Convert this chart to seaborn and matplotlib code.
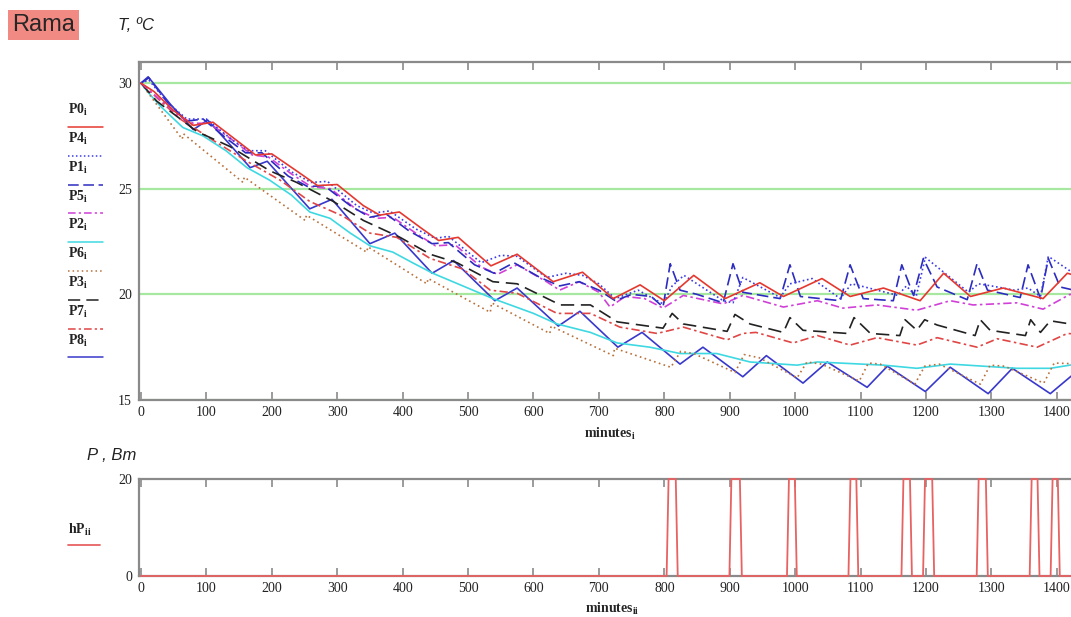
import numpy as np
import pandas as pd
import matplotlib
matplotlib.use("Agg")
import matplotlib.pyplot as plt
from matplotlib.lines import Line2D
import seaborn as sns

# ---------------- data ----------------
P0_t = [0, 20, 50, 80, 110, 150, 175, 200, 240, 270, 300, 340, 365, 395, 430, 455, 485, 535, 575, 630, 675,
        722, 763, 800, 845, 893, 946, 982, 1041, 1084, 1135, 1191, 1227, 1268, 1318, 1379, 1416, 1440]
P0_v = [30.0, 29.6, 28.7, 28.0, 28.15, 27.2, 26.6, 26.65, 25.8, 25.15, 25.2, 24.2, 23.75, 23.9, 23.1, 22.55, 22.7,
        21.35, 21.9, 20.6, 21.05, 19.8, 20.45, 19.7, 20.9, 19.8, 20.55, 19.9, 20.75, 19.9, 20.3, 19.7, 21.0, 19.9,
        20.3, 19.8, 21.0, 20.8]

P4_t = [0, 12, 40, 70, 100, 140, 165, 190, 230, 260, 285, 330, 355, 380, 420, 450, 470, 520, 550, 575, 620, 650,
        675, 700, 725, 760, 798, 812, 830, 890, 905, 920, 977, 992, 1026, 1069, 1086, 1100, 1157, 1170, 1185,
        1199, 1265, 1280, 1300, 1335, 1356, 1375, 1387, 1440]
P4_v = [30.0, 30.15, 29.1, 28.3, 28.3, 27.3, 26.8, 26.8, 25.8, 25.3, 25.35, 24.2, 23.85, 23.95, 23.1, 22.65, 22.75,
        21.5, 21.85, 21.8, 20.8, 21.0, 20.9, 20.5, 19.8, 20.2, 19.55, 20.4, 20.9, 19.7, 19.6, 20.8, 19.85, 20.5,
        20.75, 19.8, 20.5, 20.4, 19.95, 20.4, 19.9, 21.75, 20.1, 20.5, 20.4, 20.2, 20.3, 19.9, 21.8, 20.7]

P1_t = [0, 12, 40, 70, 95, 130, 160, 185, 225, 255, 280, 320, 350, 375, 410, 445, 470, 510, 540, 570, 610, 640,
        670, 700, 725, 750, 780, 798, 809, 824, 850, 890, 905, 920, 977, 992, 1008, 1069, 1084, 1104, 1150, 1163,
        1181, 1196, 1217, 1263, 1278, 1294, 1344, 1356, 1375, 1387, 1405, 1440]
P1_v = [30.0, 30.25, 29.1, 28.2, 28.3, 27.4, 26.7, 26.7, 25.6, 25.1, 25.15, 24.2, 23.65, 23.8, 23.0, 22.4, 22.45,
        21.4, 21.0, 21.5, 20.8, 20.4, 20.6, 20.2, 19.7, 20.0, 19.9, 19.4, 21.45, 20.2, 20.0, 19.6, 21.45, 20.1,
        19.8, 21.4, 19.9, 19.7, 21.4, 19.8, 19.7, 21.4, 19.95, 21.7, 20.35, 19.75, 21.45, 20.2, 19.85, 21.4, 19.8,
        21.7, 20.35, 20.1]

P5_t = [0, 30, 60, 80, 105, 140, 170, 195, 230, 260, 290, 330, 360, 385, 420, 450, 480, 520, 545, 575, 620, 640,
        670, 700, 717, 740, 770, 798, 829, 890, 920, 982, 1034, 1073, 1125, 1186, 1237, 1272, 1339, 1379, 1420, 1440]
P5_v = [30.0, 29.2, 28.4, 28.1, 28.1, 27.3, 26.6, 26.5, 25.7, 25.1, 25.0, 24.0, 23.6, 23.65, 22.9, 22.3, 22.35,
        21.3, 20.95, 21.4, 20.6, 20.2, 20.6, 20.1, 19.4, 19.9, 19.8, 19.35, 19.95, 19.55, 19.95, 19.4, 19.7, 19.35,
        19.5, 19.25, 19.7, 19.5, 19.6, 19.3, 20.0, 19.9]

P2_t = [0, 10, 30, 64, 95, 130, 162, 197, 230, 258, 289, 320, 350, 385, 415, 446, 492, 538, 600, 636, 687, 728,
        778, 824, 880, 931, 1003, 1034, 1135, 1186, 1237, 1339, 1390, 1440]
P2_v = [30.0, 29.6, 28.9, 27.9, 27.5, 26.8, 26.0, 25.4, 24.7, 23.9, 23.6, 22.9, 22.3, 22.0, 21.5, 21.0, 20.4,
        19.8, 19.1, 18.6, 18.2, 17.7, 17.5, 17.2, 17.2, 16.8, 16.65, 16.8, 16.65, 16.5, 16.7, 16.5, 16.5, 16.75]

P6_t = [0, 63, 65, 156, 158, 251, 253, 345, 347, 437, 439, 534, 536, 625, 627, 722, 724, 810, 825, 845, 908, 922,
        945, 1003, 1018, 1040, 1098, 1112, 1130, 1183, 1198, 1220, 1283, 1298, 1320, 1380, 1396, 1440]
P6_v = [30.0, 27.35, 27.6, 25.3, 25.55, 23.5, 23.75, 22.0, 22.25, 20.5, 20.75, 19.15, 19.6, 18.15, 18.5, 17.1,
        17.45, 16.55, 17.3, 17.2, 16.3, 17.15, 17.0, 16.05, 16.8, 16.7, 15.9, 16.75, 16.7, 15.75, 16.6, 16.7, 15.75,
        16.65, 16.6, 15.8, 16.75, 16.7]

P3_t = [0, 24, 86, 136, 197, 238, 294, 340, 396, 442, 483, 538, 575, 641, 687, 728, 798, 812, 829, 896, 908, 931,
        982, 992, 1012, 1080, 1090, 1115, 1160, 1168, 1186, 1198, 1217, 1275, 1283, 1298, 1352, 1360, 1375, 1390,
        1440]
P3_v = [30.0, 29.15, 27.7, 27.0, 25.85, 25.3, 24.4, 23.5, 22.7, 21.9, 21.5, 20.6, 20.5, 19.5, 19.5, 18.7, 18.4,
        19.1, 18.6, 18.25, 19.05, 18.6, 18.2, 18.9, 18.3, 18.15, 18.9, 18.15, 18.05, 18.8, 18.3, 18.8, 18.55,
        18.05, 18.8, 18.3, 18.05, 18.8, 18.2, 18.75, 18.5]

P7_t = [0, 60, 110, 162, 213, 258, 309, 350, 391, 442, 492, 534, 575, 636, 687, 732, 789, 829, 896, 920, 940, 997,
        1034, 1084, 1125, 1186, 1217, 1278, 1309, 1370, 1416, 1440]
P7_v = [30.0, 28.3, 27.3, 26.3, 25.4, 24.4, 23.7, 22.9, 22.7, 21.7, 21.2, 20.2, 20.05, 19.1, 19.1, 18.45, 18.15,
        18.45, 17.85, 18.15, 18.2, 17.7, 18.05, 17.6, 17.95, 17.6, 17.95, 17.5, 17.9, 17.5, 18.15, 18.1]

P8_t = [0, 11, 45, 80, 102, 130, 167, 193, 258, 292, 350, 388, 445, 478, 541, 575, 638, 671, 729, 766, 824, 859,
        920, 956, 1012, 1049, 1110, 1141, 1199, 1237, 1295, 1332, 1390, 1440]
P8_v = [30.0, 30.3, 29.0, 27.8, 28.25, 27.3, 26.0, 26.3, 24.05, 24.5, 22.4, 22.9, 21.0, 21.6, 19.7, 20.3, 18.5,
        19.2, 17.5, 18.2, 16.7, 17.5, 16.1, 17.1, 15.8, 16.8, 15.6, 16.6, 15.4, 16.55, 15.3, 16.5, 15.3, 16.6]

# heater power pulses (minutes on / off), level 20
pulse_on = [805, 901, 989, 1083, 1164, 1197, 1279, 1360, 1392]
pulse_off = [819, 917, 1001, 1095, 1177, 1211, 1293, 1372, 1403]
pulse_level = 20

x_ticks = list(range(0, 1401, 100))
y_ticks_T = [15, 20, 25, 30]
y_ticks_P = [0, 20]

series = [
    ("P0", P0_t, P0_v), ("P4", P4_t, P4_v), ("P1", P1_t, P1_v), ("P5", P5_t, P5_v), ("P2", P2_t, P2_v),
    ("P6", P6_t, P6_v), ("P3", P3_t, P3_v), ("P7", P7_t, P7_v), ("P8", P8_t, P8_v),
]
df = pd.concat([pd.DataFrame({"minutes": t, "T": v, "series": n}) for n, t, v in series], ignore_index=True)

# hP step series
hp_t, hp_v = [0], [0]
for a, b in zip(pulse_on, pulse_off):
    hp_t += [a - 1.5, a + 1.5, b - 1.5, b + 1.5]
    hp_v += [0, pulse_level, pulse_level, 0]
hp_t.append(1440)
hp_v.append(0)
dfp = pd.DataFrame({"minutes": hp_t, "hP": hp_v})

# ---------------- styles ----------------
styles = {
    "P0": dict(color="#E5382F", ls="-"),
    "P4": dict(color="#3C3CE6", ls=(0, (1, 1.6))),
    "P1": dict(color="#2C2CC0", ls=(0, (7, 3))),
    "P5": dict(color="#D040D8", ls=(0, (5, 2, 1.5, 2))),
    "P2": dict(color="#3ED8E2", ls="-"),
    "P6": dict(color="#B8703A", ls=(0, (1, 2))),
    "P3": dict(color="#222222", ls=(0, (8, 4))),
    "P7": dict(color="#E04646", ls=(0, (5, 2, 1.5, 2))),
    "P8": dict(color="#3838CC", ls="-"),
}

sns.set_style("white")
plt.rcParams["font.family"] = ["Liberation Serif", "DejaVu Serif"]

W, H = 1071, 617
fig = plt.figure(figsize=(W / 100, H / 100), dpi=100)

def fx(px):
    return px / W

def fy(py):
    return 1 - py / H

ax_l, ax_r = 139, 1083
ax1 = fig.add_axes([fx(ax_l), fy(400), fx(ax_r - ax_l), fy(62) - fy(400)])
ax2 = fig.add_axes([fx(ax_l), fy(576), fx(ax_r - ax_l), fy(479) - fy(576)])

order = ["P8", "P2", "P6", "P7", "P3", "P5", "P1", "P4", "P0"]
for name in order:
    st = styles[name]
    sns.lineplot(data=df[df["series"] == name], x="minutes", y="T", ax=ax1, color=st["color"],
                 linestyle=st["ls"], linewidth=1.2, estimator=None, legend=False, zorder=3)

sns.lineplot(data=dfp, x="minutes", y="hP", ax=ax2, color="#E86262", linewidth=1.3,
             estimator=None, legend=False, zorder=3, clip_on=False)

spine_c = "#8A8A8A"
for ax in (ax1, ax2):
    ax.set_xlim(-3, 1440)
    ax.set_xticks(x_ticks)
    ax.set_xticklabels([str(v) for v in x_ticks])
    for s in ("left", "top", "bottom"):
        ax.spines[s].set_color(spine_c)
        ax.spines[s].set_linewidth(1.6)
    ax.spines["right"].set_visible(False)
    ax.tick_params(axis="x", which="both", direction="in", top=True, bottom=True, length=6,
                   width=1.2, color=spine_c, labelsize=10, pad=4, labelcolor="#222222")
    ax.tick_params(axis="y", labelsize=10, labelcolor="#222222", pad=5)
    ax.set_ylabel("")

ax1.set_ylim(15, 31)
ax1.set_yticks(y_ticks_T)
ax1.tick_params(axis="y", length=0)
ax1.yaxis.grid(True, color="#A6E8A0", linewidth=1.6, zorder=0)
ax1.xaxis.grid(False)
ax1.set_axisbelow(True)
ax1.set_xlabel(r"minutes$_\mathregular{i}$", fontsize=10, fontweight="bold")
ax1.xaxis.set_label_coords((610 - ax_l) / (ax_r - ax_l), -0.075)

ax2.set_ylim(0, 20)
ax2.set_yticks(y_ticks_P)
ax2.tick_params(axis="y", direction="in", length=5, width=1.2, color=spine_c)
ax2.grid(False)
ax2.set_xlabel(r"minutes$_\mathregular{ii}$", fontsize=10, fontweight="bold")
ax2.xaxis.set_label_coords((612 - ax_l) / (ax_r - ax_l), -0.25)

# ---------------- header texts ----------------
fig.text(fx(12), fy(25), "Rama", fontsize=17, family="Liberation Sans", va="center", ha="left",
         bbox=dict(boxstyle="square,pad=0.18", facecolor="#F28A84", edgecolor="none"))
fig.text(fx(118), fy(26), "T, ºC", fontsize=12, family="Liberation Sans", style="italic",
         va="center", ha="left", color="#222222")
fig.text(fx(87), fy(455), "P , Bm", fontsize=12, family="Liberation Sans", style="italic",
         va="center", ha="left", color="#222222")

# ---------------- side legend ----------------
leg_names = ["P0", "P4", "P1", "P5", "P2", "P6", "P3", "P7", "P8"]
for k, name in enumerate(leg_names):
    ly = 110 + k * 28.8
    fig.text(fx(68), fy(ly), name + r"$_\mathregular{i}$", fontsize=10, fontweight="bold",
             va="center", ha="left", color="#222222")
    st = styles[name]
    fig.add_artist(Line2D([fx(68), fx(103)], [fy(ly + 17), fy(ly + 17)], color=st["color"],
                          linestyle=st["ls"], linewidth=1.1))

fig.text(fx(68), fy(530), r"hP$_\mathregular{ii}$", fontsize=10, fontweight="bold",
         va="center", ha="left", color="#222222")
fig.add_artist(Line2D([fx(68), fx(100)], [fy(545), fy(545)], color="#E86262", linewidth=1.3))

fig.savefig("out.png", dpi=100)
